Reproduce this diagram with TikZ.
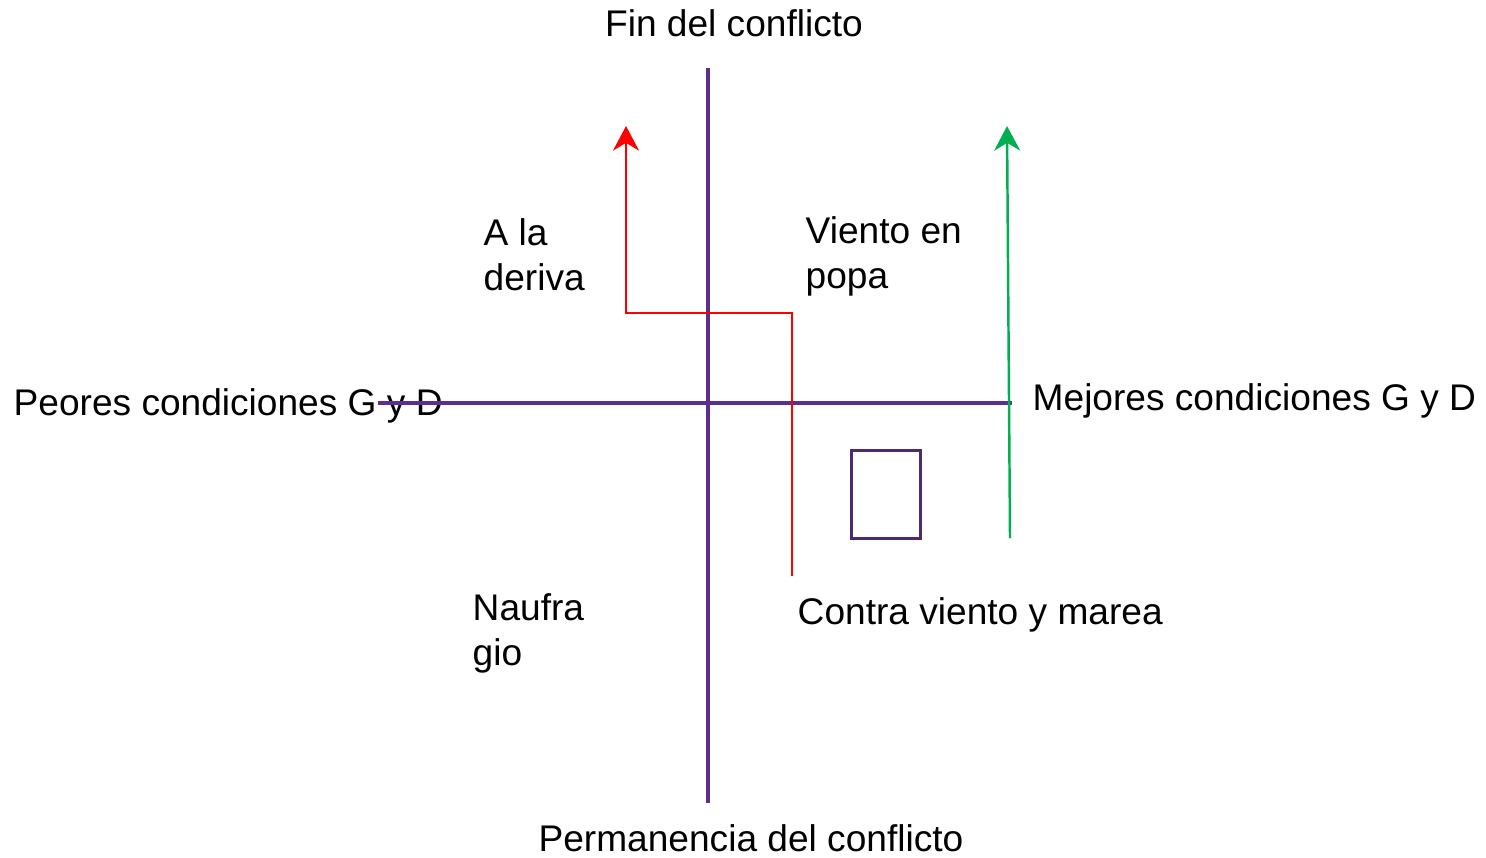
\documentclass[tikz,border=0pt]{standalone}
\usepackage{fontspec}
\setmainfont{Liberation Sans}
\usepackage{xcolor}
\usepackage{tikz}
\usetikzlibrary{arrows.meta,positioning}

\definecolor{axispurple}{RGB}{94,46,140}
\definecolor{boxpurple}{RGB}{78,40,112}
\definecolor{pathgreen}{RGB}{0,176,80}

\tikzset{
    axis/.style={draw=axispurple, line width=1.2pt},
    lbl/.style={inner sep=0pt, font=\fontsize{10.55pt}{12.8pt}\selectfont, align=left},
    tip/.style={-{Stealth[length=7pt, width=7.4pt, inset=2.2pt]}}
}

\begin{document}
\begin{tikzpicture}[x=0.01cm, y=-0.01cm]
            \path[use as bounding box] (0,0) rectangle (1486,857);

            \coordinate (top)    at (708,68);
            \coordinate (bottom) at (708,803);
            \coordinate (left)   at (378,403);
            \coordinate (right)  at (1012,403);

            \node[lbl] (fin)   at (734,23)  {Fin del conflicto};
            \node[lbl] (perm)  at (751,838) {Permanencia del conflicto};
            \node[lbl, anchor=west] (peores)  at (13,406)   {Peores condiciones G y D};
            \node[lbl, anchor=west] (mejores) at (1032,401) {Mejores condiciones G y D};

            \node[lbl, anchor=west] (deriva) at (483,255) {A la\\deriva};
            \node[lbl, anchor=west] (viento) at (805,256) {Viento en\\popa};
            \node[lbl, anchor=west] (naufra) at (472,633) {Naufra\\gio};
            \node[lbl, anchor=west] (contra) at (797,615) {Contra viento y marea};

            % red path
            \coordinate (r0) at (792,576);
            \coordinate (r1) at (792,313);
            \coordinate (r2) at (626,313);
            \coordinate (r3) at (626,126);

            % green path
            \coordinate (g0) at (1010,538);
            \coordinate (g1) at (1007,126);

            \draw[axis] (left) -- (right);
            \draw[axis] (top) -- (bottom);

            \draw[red, line width=0.6pt, tip] (r0) -- (r1) -- (r2) -- (r3);
            \draw[pathgreen, line width=0.7pt, tip] (g0) -- (g1);

            \draw[boxpurple, line width=0.85pt] (851,450) rectangle (920,538);
        \end{tikzpicture}
\end{document}
